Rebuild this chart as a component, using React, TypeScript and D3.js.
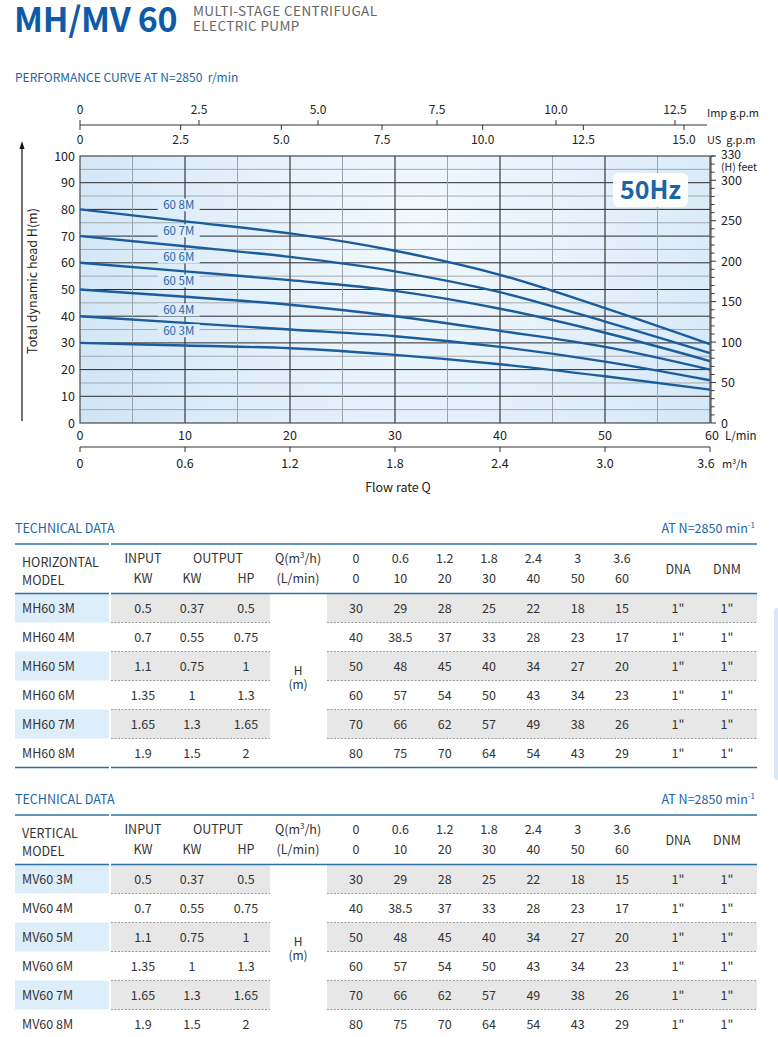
import React from "react";
import * as d3 from "d3";

// ---------- chart data ----------
const flowLmin = [0, 10, 20, 30, 40, 50, 60];
const curveNames = ["60 3M", "60 4M", "60 5M", "60 6M", "60 7M", "60 8M"];
const curveHeads = [
  [30, 29, 28, 25.5, 22, 17.5, 12.5],
  [40, 37.5, 35, 32.5, 28.5, 23, 16],
  [50, 47.3, 44.3, 40, 34.5, 28.5, 20],
  [60, 56.8, 53.5, 49.5, 42.8, 33.8, 23.2],
  [70, 66.2, 62.2, 56.8, 49, 38, 26.2],
  [80, 75.5, 71, 64.5, 55.5, 43, 29.5],
];
const labelHeads = [34.4, 42.2, 53, 62, 71.8, 81.5];
const lminTicks = [0, 10, 20, 30, 40, 50, 60];
const m3hTicks = [0, 0.6, 1.2, 1.8, 2.4, 3.0, 3.6];
const usTicks = [0, 2.5, 5, 7.5, 10, 12.5, 15];
const impTicks = [0, 2.5, 5, 7.5, 10, 12.5];
const headTicks = [0, 10, 20, 30, 40, 50, 60, 70, 80, 90, 100];
const feetTicks = [0, 50, 100, 150, 200, 250, 300];

// ---------- table data ----------
const hModels = ["MH60 3M", "MH60 4M", "MH60 5M", "MH60 6M", "MH60 7M", "MH60 8M"];
const vModels = ["MV60 3M", "MV60 4M", "MV60 5M", "MV60 6M", "MV60 7M", "MV60 8M"];
const inputKW = ["0.5", "0.7", "1.1", "1.35", "1.65", "1.9"];
const outputKW = ["0.37", "0.55", "0.75", "1", "1.3", "1.5"];
const outputHP = ["0.5", "0.75", "1", "1.3", "1.65", "2"];
const qM3h = ["0", "0.6", "1.2", "1.8", "2.4", "3", "3.6"];
const qLmin = ["0", "10", "20", "30", "40", "50", "60"];
const headTable = [
  ["30", "29", "28", "25", "22", "18", "15"],
  ["40", "38.5", "37", "33", "28", "23", "17"],
  ["50", "48", "45", "40", "34", "27", "20"],
  ["60", "57", "54", "50", "43", "34", "23"],
  ["70", "66", "62", "57", "49", "38", "26"],
  ["80", "75", "70", "64", "54", "43", "29"],
];
const dna = ["1\"", "1\"", "1\"", "1\"", "1\"", "1\""];
const dnm = ["1\"", "1\"", "1\"", "1\"", "1\"", "1\""];

const FONT = "'Noto Sans CJK SC', 'Noto Sans', sans-serif";
const BLUE = "#1b64a8";
const LINE = "#1a5c9c";

function Chart() {
  const x = d3.scaleLinear().domain([0, 60]).range([80, 710]);
  const y = d3.scaleLinear().domain([0, 100]).range([423, 156]);
  const yFt = d3.scaleLinear().domain([0, 330]).range([423, 156]);
  const xUS = d3.scaleLinear().domain([0, 15]).range([80, 684]);
  const xImp = d3.scaleLinear().domain([0, 12.5]).range([80, 675]);
  const xM3 = d3.scaleLinear().domain([0, 3.6]).range([80, 710]);
  const line = d3
    .line<number>()
    .x((_, i) => x(flowLmin[i]))
    .y((d) => y(d))
    .curve(d3.curveMonotoneX);

  const vGrid = d3.range(5, 60, 5);
  const hGrid = d3.range(5, 100, 5);
  const feetMinor = d3.range(0, 331, 10);

  return (
    <g fontFamily={FONT}>
      <defs>
        <radialGradient id="bg" gradientUnits="userSpaceOnUse" cx="420" cy="230" r="420">
          <stop offset="0" stopColor="#f3f9fe" />
          <stop offset="0.55" stopColor="#e0eefa" />
          <stop offset="1" stopColor="#cbe3f5" />
        </radialGradient>
      </defs>
      {/* top axes */}
      <line x1={80} x2={707} y1={125} y2={125} stroke="#333" strokeWidth={1} />
      {impTicks.map((t) => (
        <g key={"imp" + t}>
          <line x1={xImp(t)} x2={xImp(t)} y1={125} y2={120} stroke="#333" />
          <text x={xImp(t)} y={114} fontSize={12} textAnchor="middle" fill="#222">
            {t === 0 ? "0" : t.toFixed(1)}
          </text>
        </g>
      ))}
      {usTicks.map((t) => (
        <g key={"us" + t}>
          <line x1={xUS(t)} x2={xUS(t)} y1={125} y2={130} stroke="#333" />
          <text x={xUS(t)} y={143.5} fontSize={12} textAnchor="middle" fill="#222">
            {t === 0 ? "0" : t.toFixed(1)}
          </text>
        </g>
      ))}
      <text x={707} y={117} fontSize={11} fill="#222">Imp g.p.m</text>
      <text x={707} y={143.5} fontSize={11} fill="#222">{"US\u00a0 g.p.m"}</text>

      {/* plot background */}
      <rect x={80} y={156} width={630} height={267} fill="url(#bg)" />
      {hGrid.map((h) => (
        <line key={"h" + h} x1={80} x2={710} y1={y(h)} y2={y(h)}
          stroke={h % 10 === 0 ? "#2a2a2a" : "#a4a9ad"} strokeWidth={1} />
      ))}
      {vGrid.map((v) => (
        <line key={"v" + v} x1={x(v)} x2={x(v)} y1={156} y2={423}
          stroke={v % 10 === 0 ? "#3a3a3a" : "#9ea4a9"} strokeWidth={v % 10 === 0 ? 1.2 : 1} />
      ))}
      <rect x={80} y={156} width={630} height={267} fill="none" stroke="#4a4a4a" strokeWidth={1.2} />

      {/* curves */}
      {curveHeads.map((c, i) => (
        <path key={"c" + i} d={line(c) || ""} fill="none" stroke={LINE} strokeWidth={2.4} />
      ))}
      {curveNames.map((n, i) => (
        <g key={"l" + i}>
          <rect x={x(9.4) - 21} y={y(labelHeads[i]) - 7} width={42} height={13} fill="url(#bg)" />
          <text x={x(9.4)} y={y(labelHeads[i]) + 4} fontSize={11.5} textAnchor="middle" fill="#2468ab">
            {n}
          </text>
        </g>
      ))}

      {/* 50Hz badge */}
      <rect x={613} y={173} width={75} height={34} rx={6} fill="#ffffff" />
      <text x={650.5} y={198.5} fontSize={25} fontWeight={700} textAnchor="middle" fill={BLUE}>50Hz</text>

      {/* left ticks */}
      {headTicks.map((h) => (
        <text key={"ht" + h} x={75} y={y(h) + 4.5} fontSize={12.5} textAnchor="end" fill="#222">{h}</text>
      ))}
      {/* left arrow + label */}
      <line x1={22} x2={22} y1={421} y2={146} stroke="#111" strokeWidth={1.2} />
      <path d="M22,141 L19.5,149 L24.5,149 Z" fill="#111" />
      <text transform="translate(37,281) rotate(-90)" fontSize={12.5} textAnchor="middle" fill="#222">
        Total dynamic head H(m)
      </text>

      {/* right feet axis */}
      <line x1={711} x2={711} y1={156} y2={423} stroke="#333" strokeWidth={1} />
      {feetMinor.map((f) => (
        <line key={"fm" + f} x1={711} x2={f % 50 === 0 ? 716 : 714.5} y1={yFt(f)} y2={yFt(f)} stroke="#333" />
      ))}
      <line x1={711} x2={716} y1={yFt(330)} y2={yFt(330)} stroke="#333" />
      {feetTicks.map((f) => (
        <text key={"ft" + f} x={721} y={yFt(f) + 4.5} fontSize={12.5} fill="#222">{f}</text>
      ))}
      <text x={721} y={yFt(330) + 3} fontSize={12} fill="#222">330</text>
      <text x={721} y={171} fontSize={10.5} fill="#222">(H) feet</text>

      {/* bottom axes */}
      {lminTicks.map((t) => (
        <text key={"lm" + t} x={x(t)} dx={t === 60 ? 2 : 0} y={439.5} fontSize={12.5} textAnchor="middle" fill="#222">{t}</text>
      ))}
      <text x={725} y={439.5} fontSize={11.5} fill="#222">L/min</text>
      <line x1={80} x2={710} y1={447} y2={447} stroke="#333" strokeWidth={1.2} />
      {m3hTicks.map((t) => (
        <g key={"m3" + t}>
          <line x1={xM3(t)} x2={xM3(t)} y1={447} y2={452} stroke="#333" />
          <text x={xM3(t)} dx={t === 3.6 ? -4 : 0} y={467.5} fontSize={12.5} textAnchor="middle" fill="#222">
            {t === 0 ? "0" : t.toFixed(1)}
          </text>
        </g>
      ))}
      <text x={722} y={467.5} fontSize={11} fill="#222">
        m<tspan dy={-4} fontSize={7}>3</tspan><tspan dy={4}>/h</tspan>
      </text>
      <text x={398} y={491.5} fontSize={12.5} textAnchor="middle" fill="#222">Flow rate Q</text>
    </g>
  );
}

function Table({ top, kind, models }: { top: number; kind: string; models: string[] }) {
  // top = y of upper blue rule
  const rowH = 29;
  const rowTop = top + 49.5;
  const dataX = d3.scaleLinear().domain([0, 6]).range([356, 622]);
  const colInput = 143, colKW = 192, colHP = 246, colQ = 298, colDNA = 678, colDNM = 727;
  const txt = "#333";
  const rule = (yy: number, key: string) => (
    <g key={key}>
      <line x1={15} x2={109} y1={yy} y2={yy} stroke="#2f70a3" strokeWidth={1.6} />
      <line x1={111} x2={757} y1={yy} y2={yy} stroke="#2f70a3" strokeWidth={1.6} />
    </g>
  );
  return (
    <g fontFamily={FONT}>
      <text x={15} y={top - 11} fontSize={12.5} fill={BLUE}>TECHNICAL DATA</text>
      <text x={755} y={top - 11} fontSize={12.5} fill={BLUE} textAnchor="end">
        AT N=2850 min<tspan dy={-5} fontSize={8}>-1</tspan>
      </text>
      {/* shaded rows */}
      {models.map((m, i) =>
        i % 2 === 0 ? (
          <g key={"s" + i}>
            <rect x={15} y={rowTop + i * rowH} width={94} height={rowH} fill="#ddeefb" />
            <rect x={111} y={rowTop + i * rowH} width={159} height={rowH} fill="#e7e7e7" />
            <rect x={327} y={rowTop + i * rowH} width={430} height={rowH} fill="#e7e7e7" />
          </g>
        ) : null
      )}
      {models.slice(1).map((_, i) => (
        <g key={"d" + i}>
          <line x1={111} x2={270} y1={rowTop + (i + 1) * rowH} y2={rowTop + (i + 1) * rowH}
            stroke="#9a9a9a" strokeDasharray="2,1.5" />
          <line x1={327} x2={757} y1={rowTop + (i + 1) * rowH} y2={rowTop + (i + 1) * rowH}
            stroke="#9a9a9a" strokeDasharray="2,1.5" />
        </g>
      ))}
      {rule(top, "r1")}
      {rule(rowTop, "r2")}
      {rule(rowTop + 6 * rowH, "r3")}

      {/* header */}
      <text x={22} y={top + 22.5} fontSize={12.5} fill={txt}>{kind}</text>
      <text x={22} y={top + 41} fontSize={12.5} fill={txt}>MODEL</text>
      <text x={colInput} y={top + 19} fontSize={12.5} fill={txt} textAnchor="middle">INPUT</text>
      <text x={colInput} y={top + 39} fontSize={12.5} fill={txt} textAnchor="middle">KW</text>
      <text x={218} y={top + 19} fontSize={12.5} fill={txt} textAnchor="middle">OUTPUT</text>
      <text x={colKW} y={top + 39} fontSize={12.5} fill={txt} textAnchor="middle">KW</text>
      <text x={colHP} y={top + 39} fontSize={12.5} fill={txt} textAnchor="middle">HP</text>
      <text x={colQ} y={top + 19} fontSize={12.5} fill={txt} textAnchor="middle">
        Q(m<tspan dy={-5} fontSize={8}>3</tspan><tspan dy={5}>/h)</tspan>
      </text>
      <text x={colQ} y={top + 39} fontSize={12.5} fill={txt} textAnchor="middle">(L/min)</text>
      {qM3h.map((q, i) => (
        <text key={"qm" + i} x={dataX(i)} y={top + 19} fontSize={12.5} fill={txt} textAnchor="middle">{q}</text>
      ))}
      {qLmin.map((q, i) => (
        <text key={"ql" + i} x={dataX(i)} y={top + 39} fontSize={12.5} fill={txt} textAnchor="middle">{q}</text>
      ))}
      <text x={colDNA} y={top + 30} fontSize={12.5} fill={txt} textAnchor="middle">DNA</text>
      <text x={colDNM} y={top + 30} fontSize={12.5} fill={txt} textAnchor="middle">DNM</text>

      {/* H (m) */}
      <text x={colQ} y={rowTop + 3 * rowH - 5.5} fontSize={12} fill={txt} textAnchor="middle">H</text>
      <text x={colQ} y={rowTop + 3 * rowH + 8} fontSize={12} fill={txt} textAnchor="middle">(m)</text>

      {/* rows */}
      {models.map((m, i) => {
        const cy = rowTop + i * rowH + rowH / 2 + 4.5;
        return (
          <g key={"row" + i} fontSize={12.5} fill={txt}>
            <text x={22} y={cy}>{m}</text>
            <text x={colInput} y={cy} textAnchor="middle">{inputKW[i]}</text>
            <text x={colKW} y={cy} textAnchor="middle">{outputKW[i]}</text>
            <text x={colHP} y={cy} textAnchor="middle">{outputHP[i]}</text>
            {headTable[i].map((h, j) => (
              <text key={j} x={dataX(j)} y={cy} textAnchor="middle">{h}</text>
            ))}
            <text x={colDNA} y={cy} textAnchor="middle">{dna[i]}</text>
            <text x={colDNM} y={cy} textAnchor="middle">{dnm[i]}</text>
          </g>
        );
      })}
    </g>
  );
}

export default function App() {
  return (
    <svg
      width={778}
      height={1037}
      viewBox="0 0 778 1037"
      style={{ position: "absolute", left: 0, top: 0, background: "#fff" }}
    >
      <rect x={0} y={0} width={778} height={1037} fill="#fff" />
      <g fontFamily={FONT}>
        <text x={14} y={31.5} fontSize={34} fontWeight={700} fill="#0d5ba8" letterSpacing={-0.3}>MH/MV 60</text>
        <text x={193} y={16} fontSize={13.5} fill="#666" letterSpacing={0.4}>MULTI-STAGE CENTRIFUGAL</text>
        <text x={193} y={31} fontSize={13.5} fill="#666" letterSpacing={0.4}>ELECTRIC PUMP</text>
        <text x={15} y={82} fontSize={12} fill={BLUE}>{"PERFORMANCE CURVE AT N=2850\u00a0 r/min"}</text>
      </g>
      <Chart />
      <Table top={544} kind="HORIZONTAL" models={hModels} />
      <Table top={815} kind="VERTICAL" models={vModels} />
      <rect x={774} y={608} width={8} height={172} rx={3} fill="#d9e8f5" />
    </svg>
  );
}
